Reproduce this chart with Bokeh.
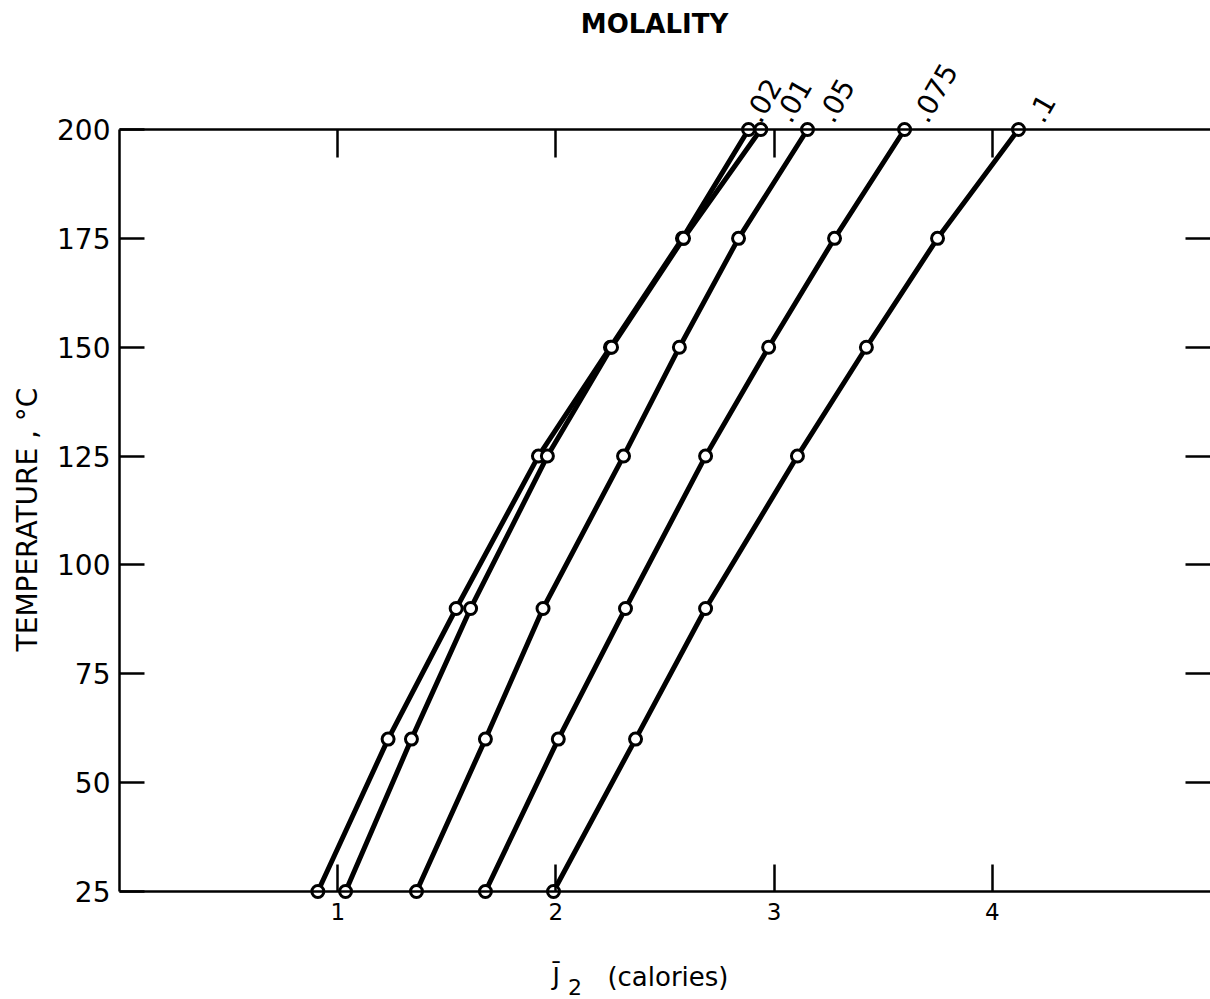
from bokeh.plotting import figure
from bokeh.models import ColumnDataSource, LinearAxis, FixedTicker, Range1d
from bokeh.core.properties import value
from bokeh.embed import file_html
from bokeh.resources import INLINE

# ---- data ----
temperature = [25, 60, 90, 125, 150, 175, 200]          # deg C
molality_labels = [".02", ".01", ".05", ".075", ".1"]
j2_m002 = [0.909, 1.231, 1.543, 1.920, 2.250, 2.580, 2.883]
j2_m001 = [1.036, 1.338, 1.609, 1.961, 2.255, 2.585, 2.939]
j2_m005 = [1.361, 1.677, 1.941, 2.310, 2.566, 2.837, 3.153]
j2_m0075 = [1.677, 2.011, 2.319, 2.686, 2.975, 3.277, 3.598]
j2_m01 = [1.989, 2.365, 2.686, 3.107, 3.423, 3.749, 4.120]
x_ticks = [1, 2, 3, 4]
y_ticks = [25, 50, 75, 100, 125, 150, 175, 200]
right_ticks = [50, 75, 100, 125, 150, 175]

series = [j2_m002, j2_m001, j2_m005, j2_m0075, j2_m01]

FONT = "DejaVu Sans"
INK = "black"

# plot box: J 0..5 between pixel columns 119 and 1210, T 25..200 between pixel
# rows 891 and 129.  The frame covers the whole canvas so that the texts around
# the box are drawn without being clipped.
X_LO, X_HI = 0.0, 5.0
PX_PER_X = (1210 - 119) / (X_HI - X_LO)
T_LO, T_HI = 25, 200
PX_PER_T = 762 / (T_HI - T_LO)
x_range = Range1d(X_LO - 119 / PX_PER_X, X_HI)
y_range = Range1d(T_LO - 108 / PX_PER_T, T_HI + 129 / PX_PER_T)

p = figure(width=1210, height=999, x_range=x_range, y_range=y_range,
           output_backend="svg", toolbar_location=None,
           x_axis_location=None, y_axis_location=None,
           min_border_left=0, min_border_right=0,
           min_border_top=0, min_border_bottom=0,
           background_fill_color="white", border_fill_color="white")
p.outline_line_color = None
p.xgrid.visible = False
p.ygrid.visible = False


def style_axis(ax, tick_in, show_labels, line=True):
    ax.major_tick_in = tick_in
    ax.major_tick_out = 0
    ax.minor_tick_in = 0
    ax.minor_tick_out = 0
    ax.major_tick_line_color = INK
    ax.major_tick_line_width = 2.5
    ax.axis_line_color = INK if line else None
    ax.axis_line_width = 2.5
    if not show_labels:
        ax.major_label_text_font_size = "0px"
        ax.major_label_standoff = 0
    else:
        ax.major_label_text_font = FONT
        ax.major_label_text_color = INK


left = LinearAxis(ticker=FixedTicker(ticks=y_ticks), fixed_location=X_LO,
                  bounds=(T_LO, T_HI))
style_axis(left, 25, True)
left.major_label_text_font_size = "28px"
left.major_label_standoff = 9
p.add_layout(left, "left")

bottom = LinearAxis(ticker=FixedTicker(ticks=x_ticks), fixed_location=T_LO,
                    bounds=(X_LO, X_HI))
style_axis(bottom, 27, True)
bottom.major_label_text_font_size = "23px"
bottom.major_label_standoff = 11
p.add_layout(bottom, "below")

top = LinearAxis(ticker=FixedTicker(ticks=x_ticks), fixed_location=T_HI,
                 bounds=(X_LO, X_HI))
style_axis(top, 28, False)
p.add_layout(top, "above")

right = LinearAxis(ticker=FixedTicker(ticks=right_ticks))
style_axis(right, 25, False, line=False)
p.add_layout(right, "right")

# ---- curves and open-circle markers ----
for xs in series:
    p.line(xs, temperature, line_color=INK, line_width=5)
for xs in series:
    p.scatter(xs, temperature, marker="circle", size=12,
              line_color=INK, line_width=3, fill_color="white")

# ---- molality labels at the top end of each curve ----
label_dx = [3, 21, 17, 14, 16]
lab_src = ColumnDataSource(dict(
    x=[s[-1] for s in series],
    y=[temperature[-1]] * len(series),
    text=molality_labels,
    dx=label_dx,
))
p.text(x="x", y="y", text="text", source=lab_src,
       x_offset="dx", y_offset=-10, angle=60, angle_units="deg",
       text_font=value(FONT), text_font_size=value("28px"), text_color=INK,
       text_align="left", text_baseline="alphabetic")


# ---- titles ----
def add_text(x, y, dx, dy, text, size, bold=False, align="left",
             baseline="alphabetic", angle=0):
    p.text(x=[x], y=[y], text=[text], x_offset=dx, y_offset=dy,
           angle=angle, angle_units="deg",
           text_font=value(FONT), text_font_size=value(size),
           text_font_style="bold" if bold else "normal",
           text_color=INK, text_align=align, text_baseline=baseline)


add_text(2.452, T_HI, 0, -106, "MOLALITY", "26px", bold=True, align="center",
         baseline="middle")
add_text(X_LO, (T_LO + T_HI) / 2, -92, 9, "TEMPERATURE , °C", "28px",
         align="center", baseline="middle", angle=90)
add_text(1.984, T_LO, 0, 85, "J\u0304", "25px")
add_text(2.055, T_LO, 0, 103, "2", "22px", baseline="bottom")
add_text(2.236, T_LO, 0, 85, "(calories)", "26px")

open("out.html", "w").write(file_html(p, INLINE))
